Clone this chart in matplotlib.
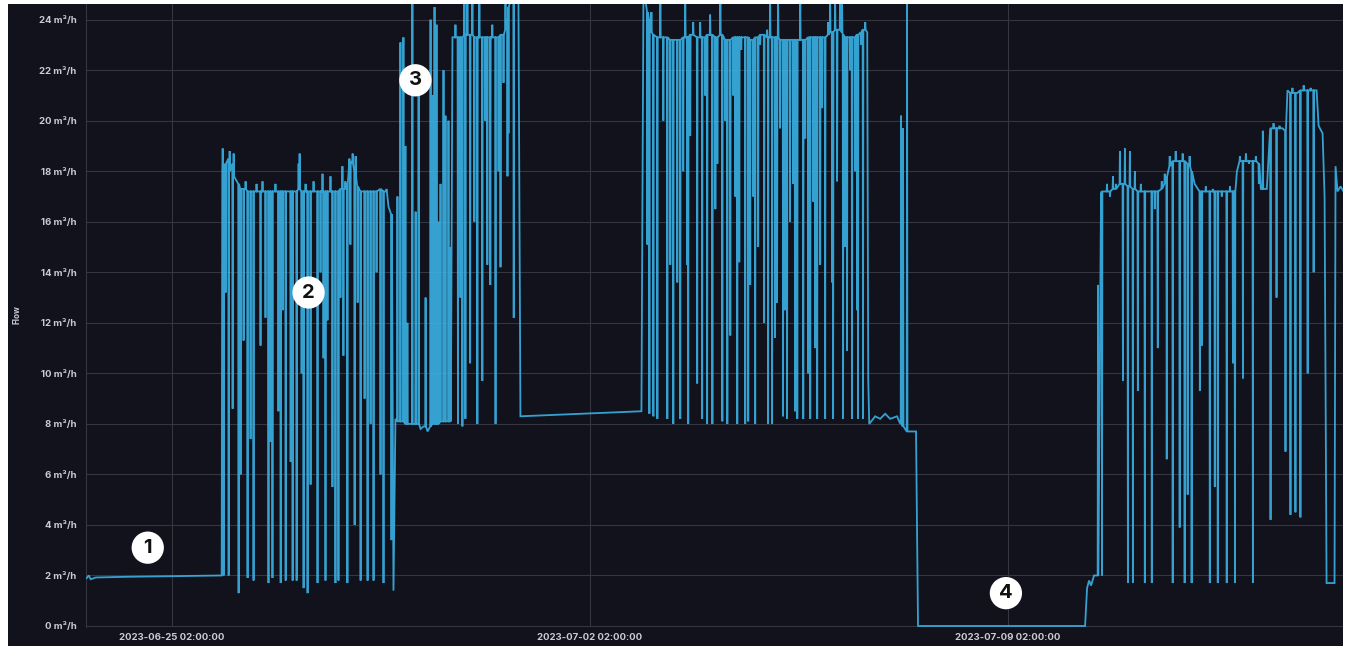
import numpy as np
import pandas as pd
import matplotlib
matplotlib.use("Agg")
import matplotlib.pyplot as plt
import matplotlib.dates as mdates
from matplotlib.patches import Rectangle

plt.rcParams['font.family'] = ['Inter', 'DejaVu Sans']

# Time reference for all readings (hours after this instant)
ORIGIN = pd.Timestamp("2023-06-25 02:00:00")

# Flow readings. (hour, value) is a plain sample; (hour, value, level) is a
# short excursion from the running level to value and back.
idle_flow = [(-34.1, 1.9), (-33.3, 2.0), (-32.5, 1.85), (-30.5, 1.92),
             (-16.5, 1.95), (-0.4, 1.97), (20.1, 2.0)]

low_load = [
    (20.5, 18.9, 18.0), (20.9, 2.0, 18.0), (21.7, 13.2, 18.3), (22.9, 2.0, 18.5),
    (23.3, 18.8, 18.0), (24.5, 8.6, 18.3), (24.9, 18.7, 17.8), (26.9, 1.3, 17.5),
    (27.7, 6.0, 17.3), (28.9, 11.3, 17.3), (29.7, 17.6, 17.3), (30.5, 1.9, 17.2),
    (31.7, 7.4, 17.2), (32.9, 1.8, 17.2), (34.1, 17.5, 17.2), (35.7, 11.1, 17.2),
    (36.5, 17.6, 17.2), (37.7, 12.2, 17.2), (38.9, 1.7, 17.2), (39.7, 7.3, 17.2),
    (40.5, 1.9, 17.2), (41.7, 17.5, 17.2), (42.9, 8.5, 17.2), (43.8, 1.7, 17.2),
    (44.6, 12.5, 17.2), (45.8, 1.8, 17.2), (47.8, 6.5, 17.2), (48.6, 1.8, 17.2),
    (50.2, 1.8, 17.2), (51.0, 18.3, 17.3), (51.4, 18.7, 17.3), (52.2, 10.0, 17.2),
    (53.0, 1.5, 17.2), (53.8, 17.5, 17.2), (54.6, 1.3, 17.2), (55.8, 5.6, 17.2),
    (57.0, 17.6, 17.2), (58.6, 1.7, 17.2), (59.8, 14.0, 17.2), (60.6, 17.9, 17.2),
    (61.0, 10.6, 17.2), (61.8, 1.8, 17.2), (62.6, 12.1, 17.2), (63.8, 17.8, 17.2),
    (64.6, 5.5, 17.2), (65.8, 1.7, 17.2), (67.0, 1.8, 17.2), (67.8, 13.0, 17.3),
    (68.6, 18.2, 17.3), (69.0, 10.7, 17.3), (69.8, 17.6, 17.3), (70.6, 1.7, 17.5),
    (71.4, 18.5, 18.2), (71.8, 15.1, 18.4), (72.7, 18.7, 18.3), (73.5, 4.0, 18.0),
    (73.9, 18.6, 17.8), (74.7, 12.8, 17.4), (75.9, 1.8, 17.2), (77.5, 9.0, 17.2),
    (78.7, 1.8, 17.2), (79.9, 8.0, 17.2), (81.1, 1.8, 17.2), (82.3, 14.0, 17.2),
    (83.9, 6.0, 17.3), (85.1, 1.7, 17.2), (86.3, 17.3, 17.2), (87.1, 16.6),
    (88.3, 3.4, 16.3), (89.1, 1.4), (89.9, 8.2),
]

high_load = [
    (90.7, 17.0, 8.1), (91.9, 23.1, 8.1), (93.1, 23.3, 8.1), (93.9, 19.0, 8.0),
    (94.7, 12.0, 8.0), (96.7, 24.8, 8.0), (98.0, 16.4, 8.0), (99.2, 21.4, 8.0),
    (100.0, 7.8), (101.2, 7.9), (102.0, 13.0, 7.9), (102.8, 7.7),
    (104.0, 24.0, 7.9), (104.8, 21.0, 8.0), (105.6, 24.5, 8.0), (106.4, 23.8, 8.0),
    (107.2, 16.0, 8.0), (108.0, 17.5, 8.1), (109.2, 22.0, 8.1), (110.0, 20.2, 8.1),
    (111.2, 20.0, 8.1), (112.0, 15.0, 8.1), (112.8, 23.3),
    (114.0, 23.8, 23.3), (115.0, 8.0, 23.3), (116.0, 13.0, 23.3), (116.8, 7.9, 23.3),
    (117.6, 24.8, 23.4), (118.0, 8.2, 23.4), (118.8, 24.8, 23.4), (119.9, 10.4, 23.4),
    (120.8, 24.8, 23.4), (121.6, 16.0, 23.3), (122.8, 8.0, 23.3), (123.6, 24.8, 23.3),
    (124.8, 9.7, 23.3), (126.0, 20.0, 23.3), (126.8, 14.3, 23.3), (128.0, 13.5, 23.3),
    (128.8, 23.8, 23.3), (130.1, 8.0, 23.3), (131.3, 18.0, 23.3), (132.1, 14.2, 23.4),
    (133.3, 21.5, 23.4), (134.1, 24.8, 23.6), (134.9, 17.8, 24.0), (135.3, 19.5, 24.5),
    (136.1, 24.8), (137.4, 12.2, 24.8), (138.6, 24.8), (139.3, 24.8),
    (140.1, 8.3), (164.2, 8.4), (188.7, 8.5),
]

peak_load = [
    (189.5, 24.8), (190.3, 24.8), (191.1, 15.1, 24.3), (191.9, 8.4, 24.0),
    (192.7, 24.3, 23.5), (193.5, 8.3, 23.4), (195.1, 8.2, 23.3), (196.3, 24.8, 23.3),
    (197.5, 20.0, 23.3), (199.1, 8.2, 23.3), (200.3, 14.3, 23.2), (201.5, 8.0, 23.2),
    (203.1, 13.6, 23.2), (204.3, 8.2, 23.2), (205.5, 18.0, 23.3), (206.3, 24.8, 23.3),
    (207.1, 14.3, 23.3), (207.5, 8.0, 23.3), (208.3, 19.4, 23.4), (209.5, 23.9, 23.4),
    (211.1, 9.6, 23.3), (212.3, 23.9, 23.3), (213.1, 8.2, 23.3), (214.3, 21.0, 23.3),
    (215.1, 8.0, 23.4), (216.3, 24.2, 23.4), (217.2, 8.0, 23.4), (218.4, 16.5, 23.3),
    (219.2, 18.3, 23.3), (220.4, 24.8, 23.4), (221.2, 8.1, 23.4), (222.4, 20.0, 23.2),
    (223.2, 8.0, 23.2), (224.4, 11.5, 23.2), (225.6, 21.0, 23.3), (226.4, 17.0, 23.3),
    (227.2, 8.0, 23.3), (228.0, 14.4, 23.3), (228.8, 22.8, 23.3), (230.4, 8.0, 23.3),
    (231.6, 8.1, 23.3), (232.4, 13.5, 23.2), (233.6, 17.0, 23.2), (234.4, 8.0, 23.3),
    (235.6, 15.0, 23.3), (236.4, 23.0, 23.4), (238.0, 12.0, 23.4), (239.2, 23.6, 23.3),
    (239.6, 8.0, 23.3), (240.4, 24.8, 23.3), (241.2, 8.0, 23.3), (242.4, 11.4, 23.3),
    (243.2, 12.8, 23.3), (243.6, 24.8, 23.3), (244.4, 19.7, 23.2), (245.6, 8.3, 23.2),
    (246.4, 12.5, 23.2), (247.2, 8.2, 23.2), (248.4, 16.0, 23.2), (249.6, 17.5, 23.2),
    (250.4, 8.5, 23.2), (251.3, 8.2, 23.2), (252.5, 24.8, 23.2), (253.7, 8.2, 23.2),
    (254.5, 19.3, 23.2), (255.7, 10.0, 23.3), (256.5, 8.2, 23.3), (257.7, 16.8, 23.3),
    (258.5, 11.0, 23.3), (259.3, 8.2, 23.3), (260.5, 14.3, 23.3), (261.3, 20.5, 23.3),
    (262.5, 8.2, 23.3), (263.7, 23.9, 23.4), (264.5, 24.8, 23.5), (265.3, 13.6, 23.5),
    (265.7, 8.2, 23.5), (266.5, 24.8, 23.6), (267.3, 17.6, 23.6), (268.5, 24.8, 23.6),
    (269.3, 24.6, 23.5), (269.7, 8.2, 23.4), (270.5, 15.0, 23.3), (271.3, 10.9, 23.3),
    (272.5, 22.0, 23.3), (273.3, 8.2, 23.3), (274.5, 18.0, 23.3), (275.3, 12.5, 23.4),
    (275.7, 8.2, 23.4), (276.9, 23.0, 23.5), (277.7, 8.2, 23.6), (278.6, 23.9, 23.6),
    (279.4, 23.5), (279.8, 9.8), (280.2, 8.0), (282.6, 8.3), (284.6, 8.2),
    (286.6, 8.4), (288.6, 8.2), (291.4, 8.3), (292.2, 8.1),
    (293.0, 20.2, 8.0), (293.8, 19.7, 7.9), (294.6, 7.8), (295.4, 24.8, 7.7),
    (296.6, 7.7), (299.0, 7.7),
]

standstill = [(299.8, 0.0), (332.8, 0.0), (366.9, 0.0)]

restart = [
    (367.7, 1.5), (368.5, 1.8), (369.3, 1.6), (370.5, 2.0), (371.3, 2.0),
    (372.1, 13.5, 2.0), (373.3, 17.1), (373.7, 2.0, 17.2), (374.5, 17.2),
    (375.7, 17.5, 17.2), (376.9, 17.0, 17.2), (378.1, 17.8, 17.3), (379.3, 17.5, 17.3),
    (380.9, 18.8, 17.5), (382.1, 9.7, 17.5), (382.9, 18.9, 17.5), (384.1, 1.7, 17.4),
    (384.9, 18.8, 17.4), (386.1, 1.7, 17.3), (386.9, 18.0, 17.3), (388.1, 9.3, 17.2),
    (389.3, 17.5, 17.2), (390.9, 1.7, 17.2), (393.7, 1.7, 17.2), (394.9, 16.5, 17.2),
    (396.1, 11.0, 17.2), (397.7, 17.6, 17.3), (398.9, 17.9, 17.5), (399.7, 6.6, 17.8),
    (400.9, 18.6, 18.2), (402.1, 1.7, 18.4), (403.3, 18.8, 18.4), (404.9, 3.9, 18.4),
    (406.1, 18.7, 18.4), (406.9, 1.7, 18.4), (408.1, 5.2, 18.3), (408.9, 18.6, 18.2),
    (409.7, 1.7, 18.0), (410.9, 17.5), (413.0, 9.3, 17.2), (413.8, 11.1, 17.2),
    (415.4, 17.4, 17.2), (417.0, 1.7, 17.2), (418.2, 17.3, 17.2), (419.0, 5.5, 17.2),
    (420.2, 1.7, 17.2), (421.8, 17.0, 17.2), (423.8, 1.7, 17.2), (425.1, 17.4, 17.2),
    (426.3, 10.4, 17.2), (427.1, 1.7, 17.2), (427.9, 18.0), (429.1, 18.6, 18.4),
    (430.3, 9.8, 18.4), (431.5, 18.7, 18.4), (432.7, 18.3, 18.4), (434.3, 1.7, 18.4),
    (435.5, 18.6, 18.4), (436.7, 17.5, 18.3), (437.5, 17.3), (438.3, 19.6, 17.3),
    (439.9, 17.3), (441.4, 4.2, 19.7), (442.6, 19.9, 19.7), (443.8, 13.0, 19.7),
    (445.0, 19.8, 19.7), (446.2, 19.7), (447.4, 6.9, 19.6), (448.2, 21.2),
    (449.4, 4.4, 21.1), (450.2, 21.3, 21.1), (451.4, 4.5, 21.1), (452.2, 21.1),
    (453.4, 4.3, 21.2), (454.7, 21.4, 21.2), (456.3, 10.0, 21.2), (457.5, 21.3, 21.2),
    (458.7, 14.0, 21.2), (459.9, 21.2), (460.7, 19.8), (462.3, 19.5), (463.1, 17.0),
    (463.9, 1.7), (467.1, 1.7), (467.5, 18.2), (468.3, 17.2), (469.5, 17.4),
    (470.7, 17.2),
]

# Numbered phase markers: (hour, flow, label)
phase_marks = [(-9.6, 3.1, "1"), (55.0, 13.2, "2"), (97.9, 21.6, "3"), (335.1, 1.3, "4")]

y_ticks = list(range(0, 25, 2))
x_tick_times = ["2023-06-25 02:00:00", "2023-07-02 02:00:00", "2023-07-09 02:00:00"]
x_span_hours = (-34.4, 470.5)

BG = "#11121c"
GRID = "#35363f"
LINE = "#3ab2e6"
TEXT = "#c9cad2"
HALF_WIDTH = 0.15  # hours either side of an excursion


def expand(run):
    hours, values = [], []
    for row in run:
        if len(row) == 2:
            hours.append(row[0])
            values.append(row[1])
        else:
            t, v, lvl = row
            hours += [t - HALF_WIDTH, t, t + HALF_WIDTH]
            values += [lvl, v, lvl]
    return hours, values


all_hours, all_values = [], []
for run in (idle_flow, low_load, high_load, peak_load, standstill, restart):
    h, v = expand(run)
    all_hours += h
    all_values += v

origin_num = mdates.date2num(ORIGIN.to_pydatetime())
x = origin_num + np.asarray(all_hours) / 24.0
y = np.asarray(all_values)

W, H = 1348, 646
fig = plt.figure(figsize=(W / 100, H / 100), dpi=100, facecolor="white")
panel = Rectangle((8 / W, 0), (1343 - 8) / W, (H - 4) / H,
                  transform=fig.transFigure, facecolor=BG, edgecolor="none")
panel.set_zorder(-10)
fig.add_artist(panel)
ax = fig.add_axes([86 / W, (H - 627) / H, (1343 - 86) / W, (627 - 4) / H])
ax.set_zorder(1)
ax.set_facecolor(BG)

ax.plot(x, y, color=LINE, lw=1.3, alpha=0.9, solid_joinstyle="miter", zorder=3)

ax.set_xlim(origin_num + x_span_hours[0] / 24, origin_num + x_span_hours[1] / 24)
ax.set_ylim(-0.04, 24.62)

ax.set_yticks(y_ticks)
ax.set_yticklabels([f"{v} m³/h" for v in y_ticks])
tick_nums = [mdates.date2num(pd.Timestamp(s).to_pydatetime()) for s in x_tick_times]
ax.set_xticks(tick_nums)
ax.set_xticklabels(x_tick_times)

ax.grid(True, color=GRID, lw=0.8, zorder=1)
ax.set_axisbelow(True)
ax.tick_params(axis="both", length=0, colors=TEXT, labelsize=6.9)
ax.tick_params(axis="y", pad=7)
ax.tick_params(axis="x", pad=4)
for lab in ax.get_xticklabels() + ax.get_yticklabels():
    lab.set_fontweight("bold")
for side in ("top", "right", "bottom"):
    ax.spines[side].set_visible(False)
ax.spines["left"].set_color(GRID)
ax.spines["left"].set_linewidth(0.8)

fig.text(17 / W, 1 - 315 / H, "Flow", rotation=90, ha="center", va="center",
         color=TEXT, fontsize=5.8, fontweight="bold")

for hr, val, lab in phase_marks:
    xm = origin_num + hr / 24
    ax.scatter([xm], [val], s=540, color="white", edgecolors="none", zorder=6)
    ax.text(xm, val, lab, ha="center", va="center", fontsize=14.5,
            fontweight="bold", color="#111111", zorder=7)

fig.savefig("out.png", dpi=100, facecolor=fig.get_facecolor())
